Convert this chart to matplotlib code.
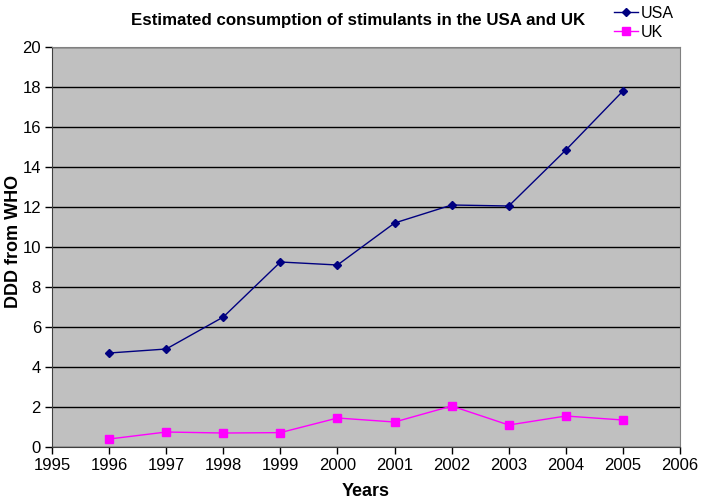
import matplotlib.pyplot as plt

# Data
years = [1996, 1997, 1998, 1999, 2000, 2001, 2002, 2003, 2004, 2005]
usa = [4.7, 4.9, 6.5, 9.25, 9.1, 11.2, 12.1, 12.05, 14.85, 17.8]
uk = [0.4, 0.75, 0.7, 0.72, 1.45, 1.25, 2.05, 1.1, 1.55, 1.35]

plt.rcParams['font.family'] = ['Liberation Sans', 'DejaVu Sans']

fig = plt.figure(figsize=(7.04, 5.03), dpi=100)
ax = fig.add_axes([0.0739, 0.1113, 0.8921, 0.7953])
ax.set_facecolor('#c0c0c0')

ax.plot(years, usa, color='#000080', marker='D', markersize=4, linewidth=1, label='USA')
ax.plot(years, uk, color='#ff00ff', marker='s', markersize=5.5, linewidth=1, label='UK')

ax.set_xlim(1995, 2006)
ax.set_ylim(0, 20)
ax.set_xticks(range(1995, 2007))
ax.set_yticks(range(0, 21, 2))
ax.tick_params(labelsize=12, direction='out', length=5, width=1, pad=3)
ax.grid(axis='y', color='black', linewidth=1)
ax.set_axisbelow(True)

for side in ['top', 'right']:
    ax.spines[side].set_color('#808080')
ax.spines['left'].set_color('#404040')
ax.spines['bottom'].set_color('#404040')

ax.set_xlabel('Years', fontsize=13, fontweight='bold', labelpad=7)
fig.text(14 / 704, 1 - 241 / 503, 'DDD from WHO', rotation=90,
         ha='center', va='center', fontsize=13, fontweight='bold')
fig.text(0.508, 0.96, 'Estimated consumption of stimulants in the USA and UK',
         ha='center', va='center', fontsize=12.2, fontweight='bold')

fig.legend(loc='upper left', bbox_to_anchor=(606 / 704, 1.004), frameon=False,
           borderpad=0, fontsize=11.5, handlelength=1.5, handletextpad=0.15,
           labelspacing=0.25)

fig.savefig('out.png', dpi=100)
